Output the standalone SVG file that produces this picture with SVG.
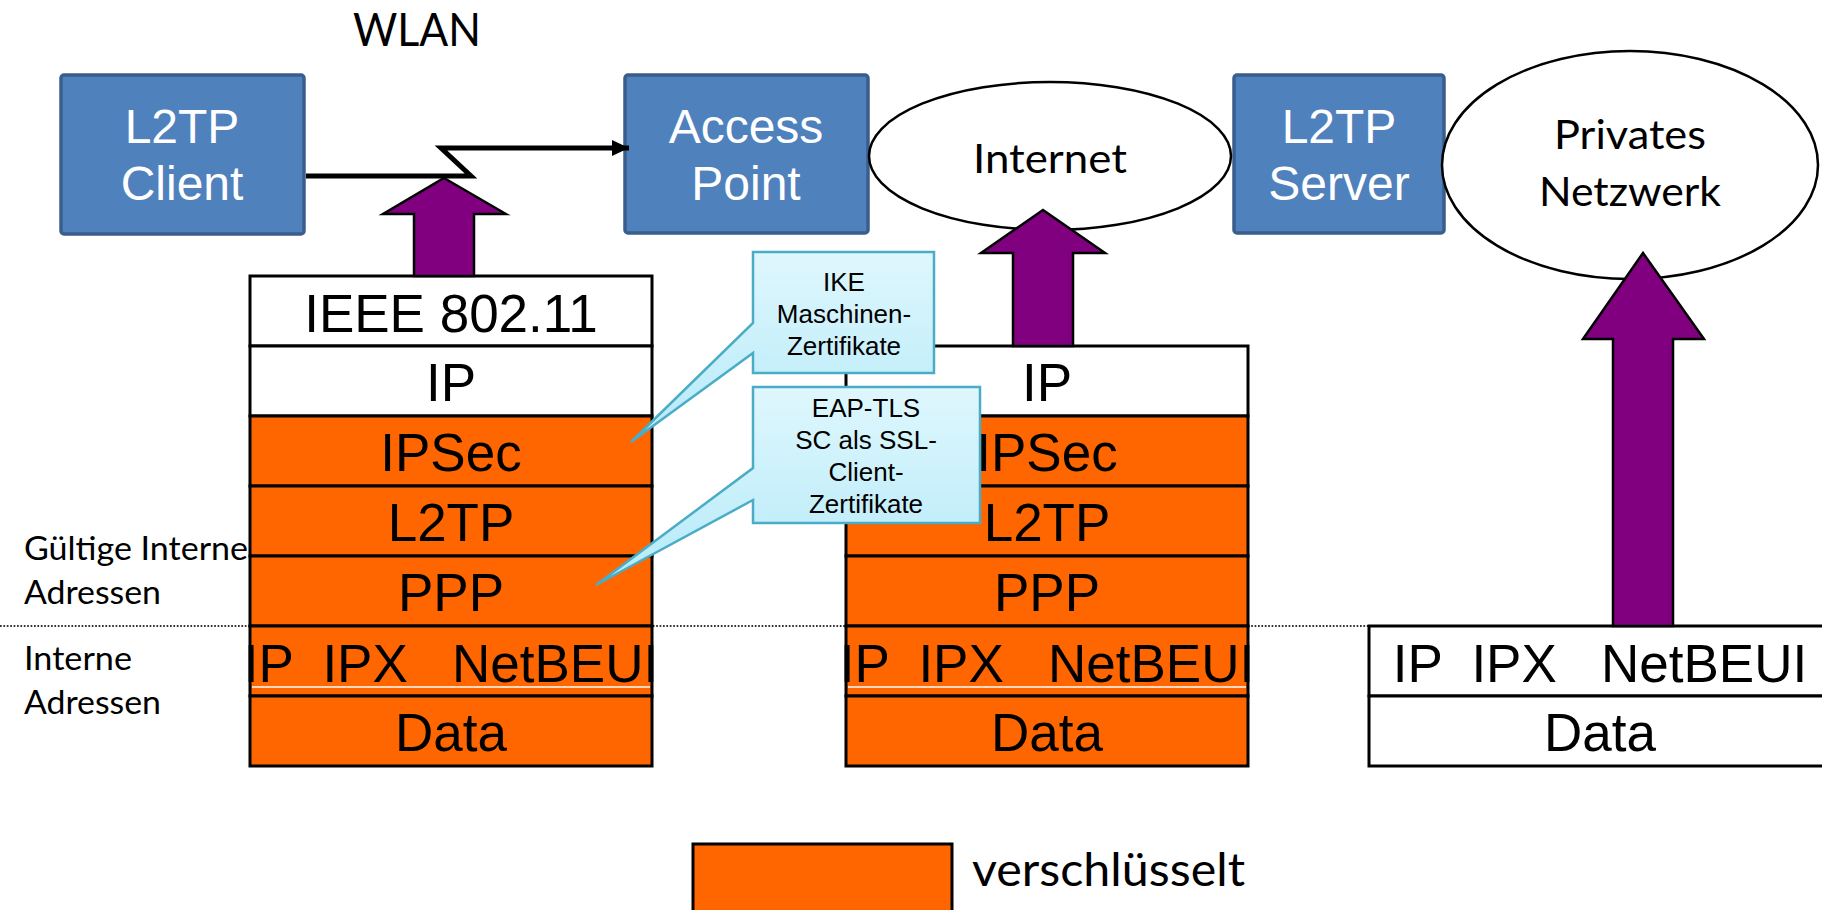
<svg xmlns="http://www.w3.org/2000/svg" width="1822" height="910" viewBox="0 0 1822 910">
<defs>
  <linearGradient id="callGrad" x1="0" y1="0" x2="0" y2="1">
    <stop offset="0" stop-color="#DFF7FD"/>
    <stop offset="1" stop-color="#B5EAF9"/>
  </linearGradient>
  <marker id="arrowHead" markerUnits="userSpaceOnUse" markerWidth="18" markerHeight="18" refX="17" refY="8" orient="auto" viewBox="0 0 18 16">
    <path d="M0,0 L17,8 L0,16 Z" fill="#000"/>
  </marker>
  <style>
    .blue{fill:#4F81BD;stroke:#3A5E8C;stroke-width:3.5}
    .btxt{font-family:"Liberation Sans",Arial,sans-serif;font-size:48px;fill:#fff;text-anchor:middle}
    .ell{fill:#fff;stroke:#000;stroke-width:2.5}
    .cal{font-family:Lato,"Open Sans",sans-serif;fill:#000}
    .row{stroke:#000;stroke-width:3}
    .w{fill:#fff}
    .o{fill:#FF6600}
    .stxt{font-family:"Liberation Sans",Arial,sans-serif;font-size:53px;fill:#000;text-anchor:middle}
    .pre{white-space:pre}
    .arr{fill:#800080;stroke:#000;stroke-width:2.5;stroke-linejoin:miter}
    .callout{fill:url(#callGrad);stroke:#4BACC6;stroke-width:2.5}
    .ctxt{font-family:"Liberation Sans",Arial,sans-serif;font-size:26px;fill:#000;text-anchor:middle}
  </style>
</defs>
<rect x="0" y="0" width="1822" height="910" fill="#fff"/>

<!-- dotted separator -->
<line x1="0" y1="626" x2="1369" y2="626" stroke="#333" stroke-width="2" stroke-dasharray="1.7 1.7"/>

<text class="cal" x="417" y="46" font-size="46" text-anchor="middle" textLength="128" lengthAdjust="spacingAndGlyphs">WLAN</text>

<g id="label-gueltig">
  <text class="cal" x="24" y="560" font-size="33" textLength="224" lengthAdjust="spacingAndGlyphs">Gültige Interne</text>
  <text class="cal" x="24" y="604" font-size="33" textLength="137" lengthAdjust="spacingAndGlyphs">Adressen</text>
</g>
<g id="label-intern">
  <text class="cal" x="24" y="670" font-size="33" textLength="108" lengthAdjust="spacingAndGlyphs">Interne</text>
  <text class="cal" x="24" y="714" font-size="33" textLength="137" lengthAdjust="spacingAndGlyphs">Adressen</text>
</g>

<g id="node-l2tp-client">
  <rect class="blue" x="61" y="75" width="243" height="159" rx="3"/>
  <text class="btxt" x="182" y="143">L2TP</text>
  <text class="btxt" x="182" y="200">Client</text>
</g>
<g id="node-access-point">
  <rect class="blue" x="625" y="75" width="243" height="158" rx="3"/>
  <text class="btxt" x="746" y="143">Access</text>
  <text class="btxt" x="746" y="200">Point</text>
</g>
<g id="node-l2tp-server">
  <rect class="blue" x="1234" y="75" width="210" height="158" rx="3"/>
  <text class="btxt" x="1339" y="143">L2TP</text>
  <text class="btxt" x="1339" y="200">Server</text>
</g>
<g id="node-internet">
  <ellipse class="ell" cx="1050" cy="156" rx="181" ry="74"/>
  <text class="cal" x="1050" y="173" font-size="41" text-anchor="middle" textLength="154" lengthAdjust="spacingAndGlyphs">Internet</text>
</g>
<g id="node-privates-netzwerk">
  <ellipse class="ell" cx="1630" cy="165" rx="188" ry="114"/>
  <text class="cal" x="1630" y="149" font-size="41" text-anchor="middle" textLength="152" lengthAdjust="spacingAndGlyphs">Privates</text>
  <text class="cal" x="1630" y="206" font-size="41" text-anchor="middle" textLength="182" lengthAdjust="spacingAndGlyphs">Netzwerk</text>
</g>

<g id="stack-client">
  <rect class="row w" x="250" y="276" width="402" height="70"/>
  <rect class="row w" x="250" y="346" width="402" height="70"/>
  <rect class="row o" x="250" y="416" width="402" height="70"/>
  <rect class="row o" x="250" y="486" width="402" height="70"/>
  <rect class="row o" x="250" y="556" width="402" height="70"/>
  <rect class="row o" x="250" y="626" width="402" height="70"/>
  <rect class="row o" x="250" y="696" width="402" height="70"/>
  <line x1="252" y1="687" x2="650" y2="687" stroke="#fff" stroke-width="1.5"/>
  <text class="stxt" x="451" y="332">IEEE 802.11</text>
  <text class="stxt" x="451" y="401">IP</text>
  <text class="stxt" x="451" y="471">IPSec</text>
  <text class="stxt" x="451" y="541">L2TP</text>
  <text class="stxt" x="451" y="611">PPP</text>
  <text class="stxt pre" x="451" y="682" xml:space="preserve">IP  IPX   NetBEUI</text>
  <text class="stxt" x="451" y="751">Data</text>
</g>

<g id="stack-internet">
  <rect class="row w" x="846" y="346" width="402" height="70"/>
  <rect class="row o" x="846" y="416" width="402" height="70"/>
  <rect class="row o" x="846" y="486" width="402" height="70"/>
  <rect class="row o" x="846" y="556" width="402" height="70"/>
  <rect class="row o" x="846" y="626" width="402" height="70"/>
  <rect class="row o" x="846" y="696" width="402" height="70"/>
  <line x1="848" y1="687" x2="1246" y2="687" stroke="#fff" stroke-width="1.5"/>
  <text class="stxt" x="1047" y="401">IP</text>
  <text class="stxt" x="1047" y="471">IPSec</text>
  <text class="stxt" x="1047" y="541">L2TP</text>
  <text class="stxt" x="1047" y="611">PPP</text>
  <text class="stxt pre" x="1047" y="682" xml:space="preserve">IP  IPX   NetBEUI</text>
  <text class="stxt" x="1047" y="751">Data</text>
</g>

<g id="stack-private">
  <rect class="row w" x="1369" y="626" width="470" height="70"/>
  <rect class="row w" x="1369" y="696" width="470" height="70"/>
  <text class="stxt pre" x="1600" y="682" xml:space="preserve">IP  IPX   NetBEUI</text>
  <text class="stxt" x="1600" y="751">Data</text>
</g>

<g id="connectors">
  <polyline points="306,176 471,176 441,148 629,148" fill="none" stroke="#000" stroke-width="5" stroke-linejoin="miter" marker-end="url(#arrowHead)"/>
  <polygon class="arr" points="444,178 506,214 474,214 474,276 414,276 414,214 383,214"/>
  <polygon class="arr" points="1043,210 1105,253 1073,253 1073,346 1013,346 1013,253 981,253"/>
  <polygon class="arr" points="1643,253 1704,339 1673,339 1673,626 1613,626 1613,339 1583,339"/>
</g>

<g id="callout-ike">
  <path class="callout" d="M753,252 H934 V373 H753 V353 L631,442 L753,323 Z"/>
  <text class="ctxt" x="844" y="291">IKE</text>
  <text class="ctxt" x="844" y="323">Maschinen-</text>
  <text class="ctxt" x="844" y="355">Zertifikate</text>
</g>
<g id="callout-eap">
  <path class="callout" d="M753,387 H980 V523 H753 V500 L596,585 L753,468 Z"/>
  <text class="ctxt" x="866" y="417">EAP-TLS</text>
  <text class="ctxt" x="866" y="449">SC als SSL-</text>
  <text class="ctxt" x="866" y="481">Client-</text>
  <text class="ctxt" x="866" y="513">Zertifikate</text>
</g>

<g id="legend">
  <rect class="row o" x="693" y="844" width="259" height="80"/>
  <text class="cal" x="972" y="886" font-size="47" textLength="273" lengthAdjust="spacingAndGlyphs">verschlüsselt</text>
</g>
</svg>
